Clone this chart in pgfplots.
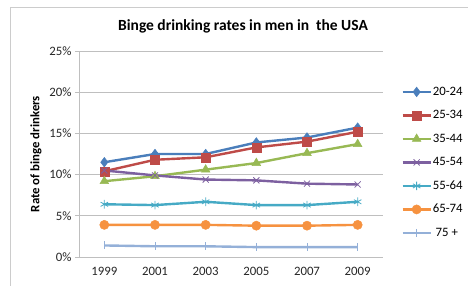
\documentclass[border=0pt]{standalone}
\usepackage{pgfplots}
\pgfplotsset{compat=1.18}
\usepackage{fontspec}
\setmainfont{Carlito}
\definecolor{s1}{HTML}{4A7EBB}
\definecolor{s2}{HTML}{BE4B48}
\definecolor{s3}{HTML}{98B954}
\definecolor{s4}{HTML}{7D60A0}
\definecolor{s5}{HTML}{46AAC5}
\definecolor{s6}{HTML}{F69240}
\definecolor{s7}{HTML}{94B0D8}
\definecolor{gridc}{HTML}{BFBFBF}
\begin{document}
\begin{tikzpicture}[x=1pt,y=1pt]
\draw[color=gridc!80,line width=0.8pt] (10,0) -- (10,279) -- (468,279);
\node[font=\bfseries\fontsize{15.5}{18}\selectfont] at (243,260) {Binge drinking rates in men in\ \ the USA};
\node[rotate=90, font=\bfseries\fontsize{12.8}{15}\selectfont] at (36,132) {Rate of binge drinkers};
\begin{axis}[
  at={(79pt,29pt)}, anchor=south west, scale only axis,
  width=304pt, height=206pt,
  xmin=-0.5, xmax=5.5, ymin=0, ymax=25,
  xtick={0,1,2,3,4,5},
  xticklabels={1999,2001,2003,2005,2007,2009},
  ytick={0,5,10,15,20,25},
  yticklabels={0\%,5\%,10\%,15\%,20\%,25\%},
  /pgf/number format/assume math mode=true,
  axis x line*=bottom, axis y line*=left,
  axis line style={gridc, line width=0.8pt, -},
  x tick style={draw=none},
  y tick style={gridc, line width=0.8pt},
  tick align=outside, major tick length=4pt,
  extra x ticks={-0.5,0.5,1.5,2.5,3.5,4.5,5.5},
  extra x tick labels={},
  extra x tick style={grid=none, tick style={draw=gridc, line width=0.8pt}, major tick length=5pt},
  ymajorgrids, grid style={gridc, line width=0.8pt},
  ticklabel style={font=\fontsize{12.8}{15}\selectfont, text=black!85},
  xticklabel style={yshift=-3pt},
  every axis plot/.append style={line width=2.4pt},
  legend style={at={(rel axis cs:1.06,0.835)}, anchor=north west, draw=none, fill=none,
    font=\fontsize{12.8}{15}\selectfont, row sep=10pt, inner sep=0pt,
    nodes={inner sep=1pt, text height=9pt, text depth=2.5pt}},
  legend cell align=left,
  legend image code/.code={\draw[mark repeat=2,mark phase=2] plot coordinates {(0pt,0pt) (14pt,0pt) (28pt,0pt)};},
]
\addplot[color=s1, mark=diamond*, mark size=4.8pt, mark options={fill=s1, line width=0.5pt}] coordinates {(0,11.5) (1,12.5) (2,12.5) (3,13.9) (4,14.5) (5,15.7)};
\addlegendentry{20-24}
\addplot[color=s2, mark=square*, mark size=4.5pt, mark options={fill=s2, line width=0.5pt}] coordinates {(0,10.4) (1,11.8) (2,12.1) (3,13.3) (4,14.0) (5,15.2)};
\addlegendentry{25-34}
\addplot[color=s3, mark=triangle*, mark size=5pt, mark options={fill=s3, line width=0.5pt}] coordinates {(0,9.2) (1,9.8) (2,10.6) (3,11.4) (4,12.6) (5,13.7)};
\addlegendentry{35-44}
\addplot[color=s4, mark=x, mark size=4.3pt, mark options={line width=0.8pt}] coordinates {(0,10.5) (1,9.9) (2,9.4) (3,9.3) (4,8.9) (5,8.8)};
\addlegendentry{45-54}
\addplot[color=s5, mark=asterisk, mark size=4.3pt, mark options={line width=0.8pt}] coordinates {(0,6.4) (1,6.3) (2,6.7) (3,6.3) (4,6.3) (5,6.7)};
\addlegendentry{55-64}
\addplot[color=s6, mark=*, mark size=4.6pt, mark options={fill=s6, line width=0.5pt}] coordinates {(0,3.9) (1,3.9) (2,3.9) (3,3.8) (4,3.8) (5,3.9)};
\addlegendentry{65-74}
\addplot[color=s7, mark=|, mark size=4pt, mark options={line width=0.8pt}] coordinates {(0,1.4) (1,1.3) (2,1.3) (3,1.2) (4,1.2) (5,1.2)};
\addlegendentry{\ 75 +}
\end{axis}
\pgfresetboundingbox
\useasboundingbox (0,0) rectangle (468,286);
\end{tikzpicture}
\end{document}
